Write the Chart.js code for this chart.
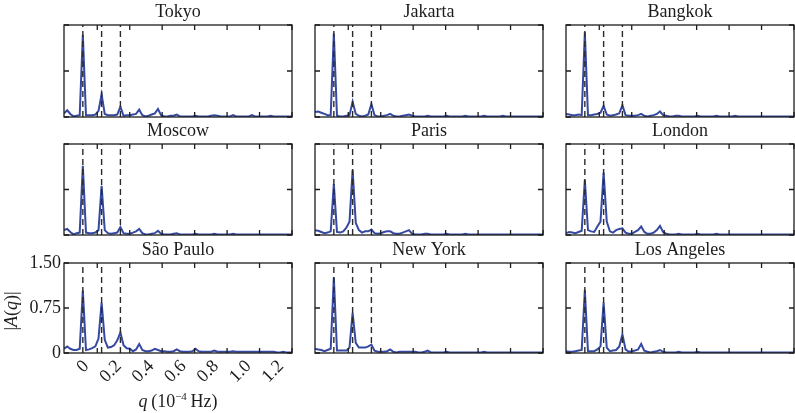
<!DOCTYPE html>
<html><head><meta charset="utf-8">
<script src="https://cdn.jsdelivr.net/npm/chart.js@4.4.1/dist/chart.umd.min.js"></script>
<style>
html,body{margin:0;padding:0;background:#fff;}
#wrap{position:relative;width:795px;height:413px;overflow:hidden;background:#fff;}
#wrap canvas{position:absolute;left:0;top:0;}
</style></head><body><div id="wrap"></div>
<script>
// ---------- DATA ----------
const cities = ['Tokyo','Jakarta','Bangkok','Moscow','Paris','London','São Paulo','New York','Los Angeles'];

// frequency grid q (10^-4 Hz)
const q = [-0.2046,-0.1853,-0.1661,-0.1468,-0.1275,-0.1082,
 -0.0889,-0.0696,-0.0503,-0.0310,-0.0117,0.0076,
 0.0268,0.0461,0.0654,0.0847,0.1040,0.1233,
 0.1426,0.1619,0.1812,0.2005,0.2198,0.2390,
 0.2583,0.2776,0.2969,0.3162,0.3355,0.3548,
 0.3741,0.3934,0.4127,0.4320,0.4513,0.4705,
 0.4898,0.5091,0.5284,0.5477,0.5670,0.5863,
 0.6056,0.6249,0.6442,0.6635,0.6827,0.7020,
 0.7213,0.7406,0.7599,0.7792,0.7985,0.8178,
 0.8371,0.8564,0.8757,0.8949,0.9142,0.9335,
 0.9528,0.9721,0.9914,1.0107,1.0300,1.0493,
 1.0686,1.0879,1.1072,1.1264,1.1457,1.1650,
 1.1843,1.2036];

const tokyo = [0.06,0.11,0.05,0.01,0.02,0.03, 1.34,0.03,0.03,0.03,0.04,0.10, 0.37,0.05,0.03,0.03,0.03,0.04,
 0.17,0.02,0.03,0.03,0.04,0.05, 0.12,0.03,0.01,0.02,0.04,0.06, 0.13,0.03,0.01,0.01,0.02,0.02,
 0.04,0.01,0.01,0.01,0.01,0.01, 0.02,0.01,0.01,0.01,0.01,0.02, 0.03,0.02,0.01,0.01,0.01,0.01,
 0.03,0.01,0.01,0.01,0.01,0.01, 0.03,0.01,0.01,0.01,0.01,0.01, 0.02,0.01,0.01,0.01,0.01,0.01, 0.01,0.01];
const jakarta = [0.08,0.09,0.07,0.05,0.03,0.03, 1.36,0.02,0.01,0.01,0.02,0.03, 0.25,0.05,0.02,0.01,0.02,0.04,
 0.21,0.03,0.01,0.01,0.02,0.03, 0.05,0.02,0.01,0.01,0.02,0.03, 0.04,0.02,0.01,0.01,0.01,0.01,
 0.02,0.01,0.01,0.01,0.01,0.01, 0.02,0.01,0.01,0.01,0.01,0.01, 0.02,0.01,0.01,0.01,0.01,0.01,
 0.02,0.01,0.01,0.01,0.01,0.01, 0.02,0.01,0.01,0.01,0.01,0.01, 0.01,0.01,0.01,0.01,0.01,0.01, 0.01,0.01];
const bangkok = [0.05,0.04,0.03,0.03,0.04,0.03, 1.38,0.03,0.03,0.04,0.05,0.07, 0.18,0.04,0.02,0.03,0.04,0.06,
 0.19,0.03,0.02,0.02,0.02,0.03, 0.05,0.02,0.01,0.02,0.03,0.05, 0.09,0.03,0.02,0.01,0.01,0.02,
 0.02,0.01,0.01,0.01,0.01,0.01, 0.02,0.01,0.01,0.01,0.01,0.01, 0.02,0.01,0.01,0.01,0.01,0.01,
 0.02,0.01,0.01,0.01,0.01,0.01, 0.01,0.01,0.01,0.01,0.01,0.01, 0.01,0.01,0.01,0.01,0.01,0.01, 0.01,0.01];
const moscow = [0.08,0.10,0.05,0.01,0.03,0.04, 1.14,0.04,0.03,0.03,0.04,0.08, 0.81,0.08,0.03,0.02,0.03,0.04,
 0.13,0.03,0.02,0.02,0.04,0.06, 0.10,0.03,0.01,0.01,0.02,0.03, 0.07,0.02,0.01,0.01,0.01,0.02,
 0.03,0.01,0.01,0.01,0.01,0.01, 0.02,0.01,0.01,0.01,0.01,0.01, 0.02,0.01,0.01,0.01,0.01,0.01,
 0.02,0.01,0.01,0.01,0.01,0.01, 0.01,0.01,0.01,0.01,0.01,0.01, 0.01,0.01,0.01,0.01,0.01,0.01, 0.01,0.01];
const paris = [0.08,0.07,0.05,0.03,0.04,0.06, 0.84,0.05,0.04,0.06,0.12,0.22, 1.07,0.20,0.08,0.04,0.06,0.06,
 0.09,0.03,0.02,0.03,0.05,0.06, 0.06,0.03,0.02,0.02,0.04,0.06, 0.08,0.02,0.01,0.01,0.01,0.02,
 0.02,0.01,0.01,0.01,0.01,0.01, 0.02,0.01,0.01,0.01,0.01,0.01, 0.02,0.01,0.01,0.01,0.01,0.01,
 0.01,0.01,0.01,0.01,0.01,0.01, 0.01,0.01,0.01,0.01,0.01,0.01, 0.01,0.01,0.01,0.01,0.01,0.01, 0.01,0.01];
const london = [0.03,0.05,0.04,0.03,0.05,0.07, 0.91,0.08,0.06,0.05,0.14,0.22, 1.03,0.22,0.06,0.04,0.08,0.10,
 0.11,0.04,0.02,0.02,0.05,0.08, 0.14,0.05,0.02,0.02,0.04,0.08, 0.15,0.05,0.02,0.01,0.01,0.01,
 0.02,0.01,0.01,0.01,0.01,0.01, 0.02,0.01,0.01,0.01,0.01,0.01, 0.02,0.01,0.01,0.01,0.01,0.01,
 0.01,0.01,0.01,0.01,0.01,0.01, 0.01,0.01,0.01,0.01,0.01,0.01, 0.01,0.01,0.01,0.01,0.01,0.01, 0.01,0.01];
const saoPaulo = [0.07,0.11,0.07,0.05,0.05,0.07, 1.04,0.05,0.06,0.08,0.11,0.24, 0.84,0.22,0.09,0.10,0.13,0.21,
 0.34,0.13,0.08,0.07,0.03,0.06, 0.15,0.05,0.03,0.03,0.04,0.07, 0.05,0.03,0.03,0.02,0.02,0.03,
 0.06,0.03,0.02,0.02,0.02,0.03, 0.07,0.03,0.02,0.02,0.02,0.02, 0.04,0.02,0.02,0.02,0.02,0.02,
 0.03,0.02,0.02,0.02,0.02,0.02, 0.02,0.02,0.02,0.02,0.02,0.02, 0.02,0.02,0.01,0.01,0.02,0.01, 0.01,0.01];
const newYork = [0.07,0.06,0.05,0.03,0.05,0.07, 1.26,0.04,0.04,0.04,0.04,0.09, 0.67,0.17,0.09,0.09,0.09,0.11,
 0.14,0.04,0.02,0.02,0.02,0.03, 0.06,0.02,0.01,0.02,0.02,0.02, 0.02,0.02,0.02,0.01,0.01,0.02,
 0.04,0.01,0.01,0.01,0.01,0.01, 0.02,0.01,0.01,0.01,0.01,0.01, 0.01,0.01,0.01,0.01,0.01,0.01,
 0.02,0.01,0.01,0.01,0.01,0.01, 0.01,0.01,0.01,0.01,0.01,0.01, 0.01,0.01,0.01,0.01,0.01,0.01, 0.01,0.01];
const losAngeles = [0.03,0.02,0.02,0.03,0.04,0.05, 1.05,0.03,0.03,0.03,0.06,0.11, 0.84,0.09,0.03,0.04,0.05,0.11,
 0.31,0.06,0.02,0.03,0.04,0.06, 0.15,0.04,0.02,0.01,0.02,0.03, 0.05,0.02,0.01,0.01,0.01,0.01,
 0.02,0.01,0.01,0.01,0.01,0.01, 0.02,0.01,0.01,0.01,0.01,0.01, 0.01,0.01,0.01,0.01,0.01,0.01,
 0.01,0.01,0.01,0.01,0.01,0.01, 0.01,0.01,0.01,0.01,0.01,0.01, 0.01,0.01,0.01,0.01,0.01,0.01, 0.01,0.01];

const series = [tokyo, jakarta, bangkok, moscow, paris, london, saoPaulo, newYork, losAngeles];

// daily harmonics (dashed lines)
const dayLines = [-0.0889, 0.0268, 0.1426];

const xTicks = [0, 0.2, 0.4, 0.6, 0.8, 1.0, 1.2];
const xTickLabels = ['0', '0.2', '0.4', '0.6', '0.8', '1.0', '1.2'];
const yTicks = [0, 0.75, 1.5];
const yTickLabels = ['0', '0.75', '1.50'];
const xRange = [-0.205, 1.2];
const yRange = [0, 1.5];

// ---------- STYLE / LAYOUT ----------
const SERIF = "'Liberation Serif', 'Times New Roman', serif";
const INK = '#1c1c1c';
const BLUE = '#3549a0';
const W = 795, H = 413;
const colEdges = [[64, 292], [315, 543], [566, 794]];
const rowEdges = [[25, 117], [144, 235], [263, 353]];

function fontFor(p, size) {
  return (p.it ? 'italic ' : '') + (p.sup ? Math.round(size * 0.62) : size) + 'px ' + SERIF;
}
function drawRich(ctx, parts, cx, baseY, size) {
  let w = 0;
  parts.forEach(p => { ctx.font = fontFor(p, size); p.w = ctx.measureText(p.t).width; w += p.w; });
  let x = cx - w / 2;
  parts.forEach(p => {
    ctx.font = fontFor(p, size);
    ctx.fillText(p.t, x, baseY - (p.sup ? size * 0.4 : 0));
    x += p.w;
  });
}

const framePlugin = {
  id: 'frame',
  afterDatasetsDraw(chart) {
    const a = chart.chartArea, ctx = chart.ctx, xs = chart.scales.x, ys = chart.scales.y;
    const tl = 5;
    ctx.save();
    ctx.strokeStyle = INK;
    ctx.lineWidth = 1.3;
    ctx.beginPath();
    xs.ticks.forEach(t => {
      const px = xs.getPixelForValue(t.value);
      ctx.moveTo(px, a.top); ctx.lineTo(px, a.top + tl);
      ctx.moveTo(px, a.bottom); ctx.lineTo(px, a.bottom - tl);
    });
    ys.ticks.forEach(t => {
      const py = ys.getPixelForValue(t.value);
      ctx.moveTo(a.left, py); ctx.lineTo(a.left + tl, py);
      ctx.moveTo(a.right, py); ctx.lineTo(a.right - tl, py);
    });
    ctx.stroke();
    ctx.strokeRect(a.left, a.top, a.right - a.left, a.bottom - a.top);
    ctx.restore();
  }
};

const axisTitlePlugin = {
  id: 'axisTitles',
  afterDraw(chart) {
    const a = chart.chartArea, ctx = chart.ctx;
    ctx.save();
    ctx.fillStyle = INK;
    ctx.textAlign = 'left';
    ctx.textBaseline = 'alphabetic';
    drawRich(ctx, [{t: 'q', it: true}, {t: '\u2009(10'}, {t: '\u2212' + '4', sup: true}, {t: '\u2009Hz)'}],
      (a.left + a.right) / 2, a.bottom + 54, 18);
    ctx.translate(a.left - 47, (a.top + a.bottom) / 2 + 3);
    ctx.rotate(-Math.PI / 2);
    drawRich(ctx, [{t: '|'}, {t: 'A', it: true}, {t: '('}, {t: 'q', it: true}, {t: ')|'}], 0, 0, 18);
    ctx.restore();
  }
};

const wrap = document.getElementById('wrap');

cities.forEach((city, idx) => {
  const col = idx % 3, row = Math.floor(idx / 3);
  const [L, R] = colEdges[col];
  const [T, B] = rowEdges[row];
  const labeled = idx === 6;
  const yW = labeled ? 40 : 0;
  const xH = labeled ? 40 : 0;

  const canvas = document.createElement('canvas');
  canvas.width = W; canvas.height = H;
  canvas.style.width = W + 'px'; canvas.style.height = H + 'px';
  wrap.appendChild(canvas);

  const datasets = [{
    data: q.map((v, i) => ({x: v, y: series[idx][i]})),
    borderColor: BLUE,
    borderWidth: 2,
    pointRadius: 0,
    tension: 0,
    fill: false,
    order: 1
  }];
  dayLines.forEach(d => datasets.push({
    data: [{x: d, y: yRange[0]}, {x: d, y: yRange[1]}],
    borderColor: '#2a2a2a',
    borderWidth: 1.4,
    borderDash: [6, 4],
    pointRadius: 0,
    fill: false,
    order: 0
  }));

  const plugins = [framePlugin];
  if (labeled) plugins.push(axisTitlePlugin);

  new Chart(canvas, {
    type: 'line',
    data: {datasets},
    plugins,
    options: {
      responsive: false,
      devicePixelRatio: 1,
      animation: false,
      events: [],
      layout: {padding: {left: L - yW, right: W - R, top: T - 23.8, bottom: H - B - xH}},
      plugins: {
        legend: {display: false},
        tooltip: {enabled: false},
        title: {
          display: true, text: city, color: INK, fullSize: false,
          font: {family: SERIF, size: 18, weight: 'normal', lineHeight: 1.2},
          padding: {top: 0, bottom: 2.2}
        }
      },
      scales: {
        x: {
          type: 'linear', min: xRange[0], max: xRange[1],
          afterBuildTicks: s => { s.ticks = xTicks.map(v => ({value: v})); },
          afterFit: s => { s.height = xH; },
          grid: {display: false, drawTicks: false},
          border: {display: false},
          ticks: {
            display: labeled, autoSkip: false, minRotation: 45, maxRotation: 45,
            labelOffset: -11, padding: 3, color: INK,
            font: {family: SERIF, size: 18},
            callback: (v, i) => xTickLabels[i]
          }
        },
        y: {
          type: 'linear', min: yRange[0], max: yRange[1],
          afterBuildTicks: s => { s.ticks = yTicks.map(v => ({value: v})); },
          afterFit: s => { s.width = yW; },
          grid: {display: false, drawTicks: false},
          border: {display: false},
          ticks: {
            display: labeled, padding: 3, color: INK,
            font: {family: SERIF, size: 18},
            callback: (v, i) => yTickLabels[i]
          }
        }
      }
    }
  });
});
</script>
</body></html>
